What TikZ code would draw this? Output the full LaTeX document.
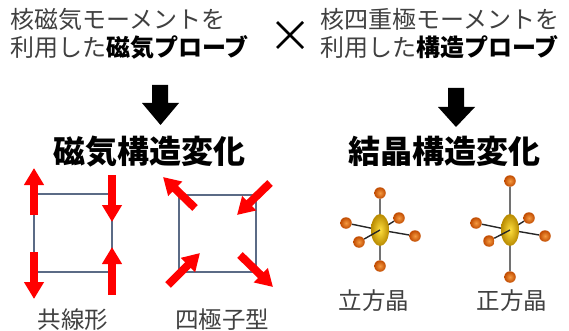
\documentclass[tikz,border=0pt]{standalone}
\usepackage{fontspec}
\newfontfamily\jp{Noto Sans CJK JP}
\usetikzlibrary{arrows.meta,shapes.geometric}
\definecolor{txtgray}{HTML}{404040}
\definecolor{latt}{HTML}{5B6B86}
\definecolor{spinred}{HTML}{FF0000}
\definecolor{ligandin}{HTML}{F59A40}
\definecolor{ligandout}{HTML}{C04A00}
\definecolor{corein}{HTML}{FFE040}
\definecolor{coreout}{HTML}{B88A00}
\tikzset{
  plain/.style={font=\jp\fontsize{24}{28}\selectfont, text=txtgray, inner sep=0pt, anchor=base west},
  heading/.style={font=\jp\bfseries\fontsize{32}{36}\selectfont, text=black, inner sep=0pt, anchor=base},
  caption/.style={font=\jp\fontsize{23.5}{28}\selectfont, text=txtgray, inner sep=0pt, anchor=base},
  lattice/.style={draw=latt, line width=2pt},
  spin/.style={draw=spinred, line width=8pt, -{Triangle[width=19pt,length=17pt]}},
  bond/.style={draw=black!85, line width=1.4pt},
  atom/.style={circle, minimum size=11.5pt, inner sep=0pt, inner color=ligandin, outer color=ligandout},
  coreatom/.style={ellipse, minimum width=18pt, minimum height=32pt, inner sep=0pt, inner color=corein, outer color=coreout},
  bigarrow/.style={fill=black}
}
\begin{document}
\begin{tikzpicture}[x=1pt,y=-1pt]
\useasboundingbox (0,0) rectangle (569,331);

% probes
\node[plain] (l1) at (10,29) {核磁気モーメントを};
\node[plain] (l2) at (10,57) {利用した\textcolor{black}{\bfseries 磁気プローブ}};
\node[plain] (r1) at (320,29) {核四重極モーメントを};
\node[plain] (r2) at (320,57) {利用した\textcolor{black}{\bfseries 構造プローブ}};

% cross sign
\coordinate (x1) at (277,22);
\coordinate (x2) at (303,48);
\coordinate (x3) at (303,22);
\coordinate (x4) at (277,48);
\draw[line width=2.6pt] (x1) -- (x2) (x3) -- (x4);

% block arrows
\fill[bigarrow] (152,85) -- (168,85) -- (168,103) -- (179,103) -- (160.5,125) -- (142,103) -- (152,103) -- cycle;
\fill[bigarrow] (448,88) -- (464,88) -- (464,107) -- (475,107) -- (456,127) -- (438,107) -- (448,107) -- cycle;

% headings
\node[heading] (hm) at (149,163) {磁気構造変化};
\node[heading] (hc) at (444,163) {結晶構造変化};

% collinear spin arrangement
\draw[lattice] (34,194) rectangle (112,272);
\draw[spin] (34,215) -- (34,168);
\draw[spin] (34,252) -- (34,299);
\draw[spin] (112,175) -- (112,222);
\draw[spin] (112,295) -- (112,247);
\node[caption] (cl) at (73,328) {共線形};

% quadrupolar spin arrangement
\draw[lattice] (179,195) rectangle (256,272);
\draw[spin] (195,208) -- (163,177);
\draw[spin] (270,183) -- (237,215);
\draw[spin] (168,285) -- (200,253);
\draw[spin] (240,255) -- (273,287);
\node[caption] (cq) at (222,328) {四極子型};

% cubic octahedron
\coordinate (c1) at (380,230);
\node[atom] (c1t) at (380,193) {};
\node[atom] (c1b) at (380,266) {};
\node[atom] (c1l) at (346,223) {};
\node[atom] (c1r) at (415,236) {};
\node[atom] (c1k) at (399,218) {};
\draw[bond] (c1) -- (c1t) (c1) -- (c1b) (c1) -- (c1l) (c1) -- (c1r) (c1) -- (c1k);
\node[coreatom] (c1m) at (c1) {};
\node[atom] (c1f) at (359,242) {};
\draw[bond] (c1) -- (c1f);
\node[caption] (cc) at (374,309) {立方晶};

% tetragonal octahedron
\coordinate (c2) at (510,230);
\node[atom] (c2t) at (510,181) {};
\node[atom] (c2b) at (510,277) {};
\node[atom] (c2l) at (476,223) {};
\node[atom] (c2r) at (545,236) {};
\node[atom] (c2k) at (529,218) {};
\draw[bond] (c2) -- (c2t) (c2) -- (c2b) (c2) -- (c2l) (c2) -- (c2r) (c2) -- (c2k);
\node[coreatom] (c2m) at (c2) {};
\node[atom] (c2f) at (489,241) {};
\draw[bond] (c2) -- (c2f);
\node[caption] (ct) at (512,309) {正方晶};
\end{tikzpicture}
\end{document}
